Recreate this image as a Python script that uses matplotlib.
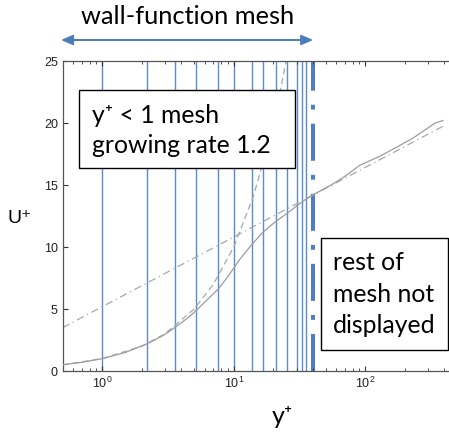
import matplotlib
matplotlib.use("Agg")
import matplotlib.pyplot as plt
from matplotlib.patches import Rectangle
from matplotlib.ticker import LogLocator, NullFormatter

# velocity profile U+ against y+ (solid grey)
profile_yplus = [0.5, 0.7, 1.0, 1.5, 2.2, 3.0, 3.5, 4.5, 5.2, 6.5, 7.6, 9.0, 11.1,
                 13.7, 16.7, 20.5, 25.3, 30.0, 35.8, 40.0, 55.0, 70.0, 91.0, 128.0,
                 170.0, 232.0, 290.0, 340.0, 390.0]
profile_uplus = [0.5, 0.7, 1.0, 1.5, 2.2, 2.95, 3.45, 4.3, 4.9, 5.9, 6.6, 7.6, 9.0,
                 10.2, 11.2, 12.0, 12.7, 13.3, 13.9, 14.2, 15.0, 15.7, 16.6, 17.3,
                 18.0, 18.8, 19.5, 20.0, 20.2]

# viscous sublayer U+ = y+ (dashed)
viscous_yplus = [0.5, 1.0, 2.0, 3.0, 5.0, 7.0, 10.0, 14.0, 18.0, 22.0, 25.0]
viscous_uplus = [0.5, 1.0, 2.0, 3.0, 5.0, 7.0, 10.0, 14.0, 18.0, 22.0, 25.0]

# log law (dash-dot), straight on a log axis
loglaw_yplus = [0.5, 400.0]
loglaw_uplus = [3.5, 19.8]

# cell faces of the y+ < 1 mesh
mesh_faces = [1.0, 2.2, 3.55, 5.2, 7.6, 10.1, 13.7, 16.7, 20.8, 25.3, 30.3, 33.3, 35.6]
mesh_limit = 40.2

W, H = 449, 436
BLUE = "#5a8dd0"
DARK_BLUE = "#4f7fc0"


def fig_xy(x, y):
    # pixel position measured from the top-left corner -> figure fraction
    return x / W, 1 - y / H


fig = plt.figure(figsize=(W / 100, H / 100), dpi=100)
ax = fig.add_axes([62.7 / W, 65 / H, (457.2 - 62.7) / W, 310 / H])

for xf in mesh_faces:
    ax.axvline(xf, color=BLUE, lw=1.0, zorder=1)
ax.axvline(mesh_limit, color=DARK_BLUE, lw=2.9, zorder=1,
           linestyle=(0, (9.2, 3.5, 1.2, 3.5)), dash_capstyle="butt")

ax.plot(loglaw_yplus, loglaw_uplus, color="#a8a8a8", lw=0.9, ls=(0, (6, 3, 1, 3)), zorder=2)
ax.plot(viscous_yplus, viscous_uplus, color="#a8a8a8", lw=0.9, ls=(0, (5, 3)), zorder=2)
ax.plot(profile_yplus, profile_uplus, color="#9c9c9c", lw=0.9, zorder=3)

ax.set_xscale("log")
ax.set_xlim(0.5, 500)
ax.set_ylim(0, 25)
ax.set_yticks([0, 5, 10, 15, 20, 25])
ax.xaxis.set_minor_locator(LogLocator(base=10, subs=range(2, 10), numticks=20))
ax.xaxis.set_minor_formatter(NullFormatter())

ax.tick_params(which="both", direction="in", top=True, right=False,
               labelsize=9, labelcolor="#222222", color="#333333")
ax.tick_params(which="major", length=3.5, width=0.8)
ax.tick_params(which="minor", length=2, width=0.6)
for lab in ax.get_xticklabels() + ax.get_yticklabels():
    lab.set_family("Liberation Sans")

for side in ["left", "bottom", "top"]:
    ax.spines[side].set_color("#555555")
    ax.spines[side].set_linewidth(0.9)
ax.spines["right"].set_visible(False)

font = ["Lato", "DejaVu Sans"]

# axis labels
fig.text(*fig_xy(20, 218), "U\u207a", family=["Liberation Sans", "DejaVu Sans"],
         fontsize=14, ha="center", va="center")
fig.text(*fig_xy(282, 416), "y\u207a", family=font, fontsize=18, ha="center", va="center")

# wall-function extent arrow
fig.text(*fig_xy(188, 17), "wall-function mesh", family=font, fontsize=18.3,
         ha="center", va="center")
ax.annotate("", xy=(0.485, 1 - 40 / H), xytext=(mesh_limit, 1 - 40 / H),
            xycoords=("data", "figure fraction"), textcoords=("data", "figure fraction"),
            arrowprops=dict(arrowstyle="<|-|>,head_length=0.7,head_width=0.3",
                            color="#4a7ebb", lw=1.4, shrinkA=0, shrinkB=0),
            annotation_clip=False)

# annotation boxes
boxes = [
    (79.3, 90, 295, 168.3, 91.7, [(122.7, "y\u207a < 1 mesh"), (152.7, "growing rate 1.2")]),
    (321, 238.3, 448.3, 350, 333, [(270, "rest of"), (301.5, "mesh not"), (333, "displayed")]),
]
for x0, y0, x1, y1, tx, lines in boxes:
    fig.add_artist(Rectangle(fig_xy(x0, y1), (x1 - x0) / W, (y1 - y0) / H,
                             transform=fig.transFigure, facecolor="white",
                             edgecolor="black", lw=1.0, zorder=5))
    for by, txt in lines:
        fig.text(*fig_xy(tx, by), txt, family=font, fontsize=17.8, ha="left",
                 va="baseline", zorder=6)

fig.savefig("out.png", dpi=100)
